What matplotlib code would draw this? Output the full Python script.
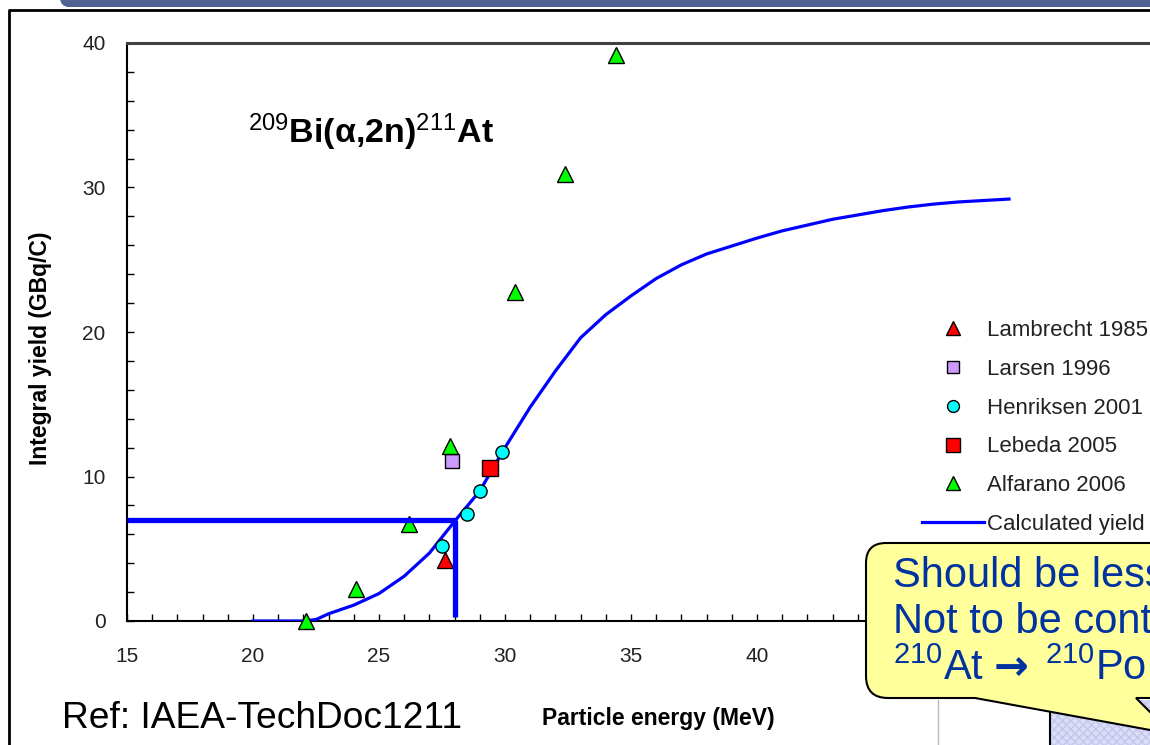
import numpy as np
import matplotlib
matplotlib.use("Agg")
import matplotlib.pyplot as plt
from matplotlib.ticker import MultipleLocator
from matplotlib.patches import Rectangle, PathPatch, FancyBboxPatch
from matplotlib.path import Path

plt.rcParams["font.family"] = ["Liberation Sans", "DejaVu Sans"]
plt.rcParams["mathtext.fontset"] = "custom"
plt.rcParams["mathtext.rm"] = "Liberation Sans"
plt.rcParams["mathtext.it"] = "Liberation Sans:italic"
plt.rcParams["mathtext.bf"] = "Liberation Sans:bold"

# ---- data -------------------------------------------------------------
# Calculated thick-target integral yield, 209Bi(a,2n)211At
calc_energy = [20, 21, 22, 22.5, 23, 24, 25, 26, 27, 28, 29, 30, 31, 32, 33,
               34, 35, 36, 37, 38, 39, 40, 41, 42, 43, 44, 45, 46, 47, 48, 49, 50]
calc_yield = [0.0, 0.0, 0.0, 0.1, 0.5, 1.1, 1.9, 3.1, 4.7, 6.9, 9.0, 12.0, 14.8,
              17.3, 19.6, 21.2, 22.5, 23.7, 24.65, 25.4, 25.95, 26.5, 27.0, 27.4,
              27.8, 28.1, 28.4, 28.65, 28.85, 29.0, 29.1, 29.2]

# Measured yields
lambrecht_energy = [27.6]
lambrecht_yield = [4.2]
larsen_energy = [27.9]
larsen_yield = [11.1]
henriksen_energy = [27.5, 28.5, 29.0, 29.9]
henriksen_yield = [5.2, 7.4, 9.0, 11.7]
lebeda_energy = [29.4]
lebeda_yield = [10.6]
alfarano_energy = [22.1, 24.1, 26.2, 27.8, 30.4, 32.4, 34.4]
alfarano_yield = [0.0, 2.2, 6.7, 12.1, 22.8, 30.9, 39.2]

# Operating point marked on the curve
target_energy = 28.0
target_yield = 7.0

x_ticks_major = [15, 20, 25, 30, 35, 40]
y_ticks_major = [0, 10, 20, 30, 40]

# ---- figure -----------------------------------------------------------
W, H = 1150, 745
fig = plt.figure(figsize=(W / 100, H / 100), dpi=100)
fig.patch.set_facecolor("white")

# background layer in pixel coordinates (slide frame)
bg = fig.add_axes([0, 0, 1, 1], zorder=0)
bg.axis("off")
band = FancyBboxPatch((60, -30), 1200, 37, boxstyle="round,pad=0,rounding_size=10",
                      facecolor="#5c6e9d", edgecolor="none")
bg.add_patch(band)
grad = np.linspace(0, 1, 64).reshape(-1, 1)
gimg = bg.imshow(grad, extent=(58, 1260, 7, -30), aspect="auto", zorder=1,
                 cmap=matplotlib.colors.LinearSegmentedColormap.from_list(
                     "hdr", ["#8a9ac6", "#5f719f", "#4e6090"]))
gimg.set_clip_path(band)
bg.plot([8, W + 5], [10, 10], color="black", lw=2, solid_capstyle="butt")
bg.plot([9, 9], [10, H + 5], color="black", lw=2, solid_capstyle="butt")
bg.plot([938, 938], [700, H + 5], color="#b8b8b8", lw=1)
bg.set_xlim(0, W)
bg.set_ylim(H, 0)

# main chart (extends past the right edge of the slide)
ax = fig.add_axes([127 / W, (H - 621) / H, (1261 - 127) / W, (621 - 43) / H], zorder=1)
ax.set_facecolor("white")
ax.set_xlim(15, 60)
ax.set_ylim(0, 40)
ax.set_xticks(x_ticks_major)
ax.set_yticks(y_ticks_major)
ax.xaxis.set_minor_locator(MultipleLocator(1))
ax.yaxis.set_minor_locator(MultipleLocator(2))
ax.tick_params(which="both", direction="in", length=5, width=1, color="black",
               top=False, right=False)
ax.tick_params(axis="x", labelsize=15, pad=19, labelcolor="#222222")
ax.tick_params(axis="y", labelsize=15, pad=15.5, labelcolor="#222222")
for side in ("left", "bottom"):
    ax.spines[side].set_linewidth(1.5)
    ax.spines[side].set_color("black")
ax.spines["top"].set_linewidth(2.2)
ax.spines["top"].set_color("#404040")
ax.spines["right"].set_visible(False)

ax.set_xlabel("Particle energy (MeV)", fontsize=16.5, fontweight="bold", va="center")
ax.xaxis.set_label_coords((658 - 127) / 1134, (621 - 718) / 578)
ax.set_ylabel("Integral yield (GBq/C)", fontsize=16.5, fontweight="bold", va="center")
ax.yaxis.set_label_coords((40 - 127) / 1134, (621 - 348) / 578)

calc_line, = ax.plot(calc_energy, calc_yield, color="#0000ff", lw=2.3, zorder=3,
                     label="Calculated yield")

mk = dict(linestyle="none", markeredgecolor="black", markeredgewidth=1.0,
          clip_on=False, zorder=4)
h_lam, = ax.plot(lambrecht_energy, lambrecht_yield, marker="^", ms=11,
                 markerfacecolor="#ff0000", label="Lambrecht 1985", **mk)
h_lar, = ax.plot(larsen_energy, larsen_yield, marker="s", ms=9.5,
                 markerfacecolor="#cc99ff", label="Larsen 1996", **mk)
h_hen, = ax.plot(henriksen_energy, henriksen_yield, marker="o", ms=9.5,
                 markerfacecolor="#00ffff", label="Henriksen 2001", **mk)
h_leb, = ax.plot(lebeda_energy, lebeda_yield, marker="s", ms=11,
                 markerfacecolor="#ff0000", label="Lebeda 2005", **mk)
h_alf, = ax.plot(alfarano_energy, alfarano_yield, marker="^", ms=11,
                 markerfacecolor="#00ff00", label="Alfarano 2006", **mk)

# guide lines to the operating point
ax.plot([15, target_energy], [target_yield, target_yield], color="#0000ff",
        lw=3.8, solid_capstyle="butt", zorder=5)
ax.plot([target_energy, target_energy], [target_yield, 0.25], color="#0000ff",
        lw=3.8, solid_capstyle="butt", zorder=5)

handles = [h_lam, h_lar, h_hen, h_leb, h_alf, calc_line]
leg = ax.legend(handles=handles, loc="upper left", bbox_to_anchor=(922 / W, 1 - 320 / H),
                bbox_transform=fig.transFigure, frameon=False, fontsize=16,
                handlelength=2.8, handletextpad=0.12, labelspacing=0.8,
                borderpad=0, borderaxespad=0, markerscale=0.9)
for t in leg.get_texts():
    t.set_color("#222222")

ax.text((248 - 127) / 1134, (621 - 143) / 578, r"$^{209}$Bi(α,2n)$^{211}$At",
        transform=ax.transAxes, fontsize=24.5, fontweight="bold",
        ha="left", va="baseline")

# overlay: reference note and callout
ov = fig.add_axes([0, 0, 1, 1], zorder=3)
ov.axis("off")
ov.patch.set_alpha(0)

ov.text(62, 728, "Ref: IAEA-TechDoc1211", fontsize=26.7, color="black",
        ha="left", va="baseline")

ov.add_patch(Rectangle((1050, 700), 200, 80, facecolor="#dcdef6", edgecolor="#c3c6ee",
                       hatch="xxxx", lw=0, zorder=1))
ov.plot([1050, 1050], [700, H + 5], color="black", lw=1.5, zorder=2)

verts = [(886, 543), (1260, 543), (1260, 698), (1136, 698), (1172, 734), (975, 698),
         (888, 698), (866, 698), (866, 676), (866, 563), (866, 543), (886, 543), (886, 543)]
codes = [Path.MOVETO, Path.LINETO, Path.LINETO, Path.LINETO, Path.LINETO, Path.LINETO,
         Path.LINETO, Path.CURVE3, Path.CURVE3, Path.LINETO, Path.CURVE3, Path.CURVE3,
         Path.CLOSEPOLY]
ov.add_patch(PathPatch(Path(verts, codes), facecolor="#ffff9c", edgecolor="black",
                       lw=1.5, zorder=3))
blue = "#0033a0"
ov.text(893, 587, "Should be less than 28 MeV", fontsize=30, color=blue,
        ha="left", va="baseline", zorder=4)
ov.text(893, 633, "Not to be contaminated with", fontsize=30, color=blue,
        ha="left", va="baseline", zorder=4)
ov.text(893, 680, r"$^{210}$At", fontsize=30, color=blue,
        ha="left", va="baseline", zorder=4)
ov.text(994, 680, "→", fontsize=30, color=blue, fontweight="bold",
        family=["DejaVu Sans"], ha="left", va="baseline", zorder=4)
ov.text(1045, 680, r"$^{210}$Po", fontsize=30, color=blue,
        ha="left", va="baseline", zorder=4)
ov.set_xlim(0, W)
ov.set_ylim(H, 0)

fig.savefig("out.png", dpi=100)
